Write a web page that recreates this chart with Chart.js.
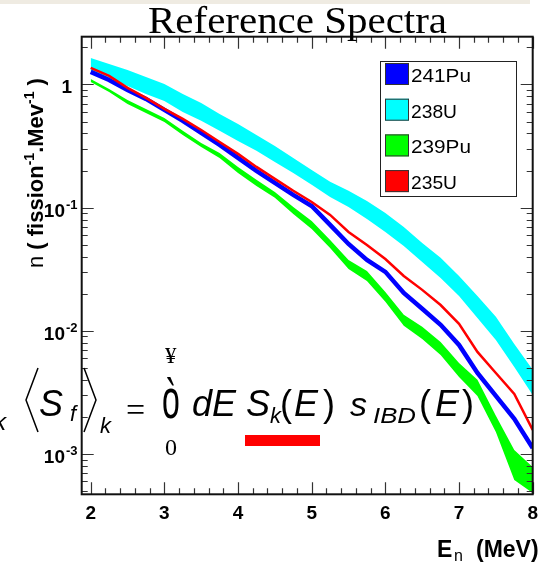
<!DOCTYPE html>
<html>
<head>
<meta charset="utf-8">
<script src="https://cdn.jsdelivr.net/npm/chart.js@4.4.1/dist/chart.umd.min.js"></script>
<style>
  html, body { margin: 0; padding: 0; background: #fff; }
  #wrap { width: 539px; height: 562px; }
</style>
</head>
<body>
<div id="wrap"><canvas id="spectra" width="539" height="562"></canvas></div>
<script>
// neutrino energy grid (MeV)
const energies = [2, 2.25, 2.5, 2.75, 3, 3.25, 3.5, 3.75, 4, 4.25, 4.5, 4.75, 5, 5.25, 5.5, 5.75, 6, 6.25, 6.5, 6.75, 7, 7.25, 7.5, 7.75, 8];

// 238U band
const u238Upper = [1.641, 1.467, 1.311, 1.150, 1.009, 0.837, 0.708, 0.576, 0.478, 0.389, 0.317, 0.253, 0.202, 0.162, 0.137, 0.113, 0.0906, 0.0697, 0.0517, 0.0391, 0.0279, 0.0192, 0.0130, 0.00783, 0.00482];
const u238Lower = [1.287, 1.129, 0.972, 0.837, 0.735, 0.598, 0.506, 0.420, 0.348, 0.289, 0.235, 0.191, 0.153, 0.122, 0.101, 0.0810, 0.0635, 0.0489, 0.0362, 0.0269, 0.0192, 0.0127, 0.00844, 0.00509, 0.00302];

// 239Pu band
const pu239Upper = [1.108, 0.919, 0.748, 0.633, 0.535, 0.420, 0.335, 0.278, 0.214, 0.168, 0.134, 0.101, 0.0780, 0.0547, 0.0376, 0.0306, 0.0207, 0.0135, 0.0108, 0.00813, 0.00549, 0.00400, 0.00204, 0.00108, 0.000786];
const pu239Lower = [1.048, 0.869, 0.695, 0.587, 0.496, 0.389, 0.311, 0.253, 0.191, 0.150, 0.120, 0.0889, 0.0672, 0.0471, 0.0318, 0.0254, 0.0172, 0.0110, 0.00860, 0.00637, 0.00422, 0.00296, 0.00151, 0.000616, 0.000483];

// 241Pu and 235U
const pu241 = [1.263, 1.088, 0.902, 0.763, 0.621, 0.506, 0.404, 0.323, 0.253, 0.199, 0.159, 0.127, 0.103, 0.0724, 0.0507, 0.0376, 0.0301, 0.0203, 0.0151, 0.0112, 0.00768, 0.00455, 0.00296, 0.00193, 0.00112];
const u235 = [1.361, 1.172, 0.937, 0.777, 0.633, 0.525, 0.427, 0.341, 0.273, 0.214, 0.171, 0.137, 0.111, 0.0872, 0.0635, 0.0498, 0.0383, 0.0279, 0.0215, 0.0162, 0.0114, 0.00674, 0.00455, 0.00307, 0.00157];

// axes
const xTickValues = [2, 3, 4, 5, 6, 7, 8];
const xTickLabels = ['2', '3', '4', '5', '6', '7', '8'];
const yDecades = [1, 1e-1, 1e-2, 1e-3];
const yTickBase = ['1', '10', '10', '10'];
const yTickExp = ['', '-1', '-2', '-3'];

// legend
const legendLabels = ['241Pu', '238U', '239Pu', '235U'];
const legendColors = ['#0000ff', '#00ffff', '#00ff00', '#ff0000'];

const SANS = 'Liberation Sans';
const SERIF = 'Liberation Serif';

function pts(ys) {
    return energies.map((e, i) => ({ x: e, y: ys[i] }));
}

function txt(ctx, s, x, y, font, opts) {
    opts = opts || {};
    ctx.save();
    ctx.font = font;
    ctx.fillStyle = opts.color || '#000';
    ctx.textAlign = opts.align || 'left';
    ctx.textBaseline = 'alphabetic';
    if (opts.fitW) {
        const w = ctx.measureText(s).width;
        ctx.translate(x, y);
        ctx.scale(opts.fitW / w, 1);
        ctx.fillText(s, 0, 0);
    } else {
        ctx.fillText(s, x, y);
    }
    ctx.restore();
}

const rootStyle = {
    id: 'rootStyle',
    beforeDraw(chart) {
        const ctx = chart.ctx;
        ctx.save();
        ctx.fillStyle = '#ffffff';
        ctx.fillRect(0, 0, chart.width, chart.height);
        ctx.fillStyle = '#efebe2';
        ctx.fillRect(0, 0, 530, 4);
        ctx.restore();
    },
    afterDatasetsDraw(chart) {
        const { ctx, chartArea: a, scales: { x, y } } = chart;
        ctx.save();

        // ticks (inside, on all four sides)
        ctx.strokeStyle = '#333';
        ctx.lineWidth = 1.2;
        ctx.beginPath();
        for (let i = 0; i <= 30; i++) {
            const px = Math.round(x.getPixelForValue(2 + i * 0.2)) + 0.5;
            const len = i % 5 === 0 ? 12 : 6;
            ctx.moveTo(px, a.bottom); ctx.lineTo(px, a.bottom - len);
            ctx.moveTo(px, a.top); ctx.lineTo(px, a.top + len);
        }
        for (let d = -4; d <= 0; d++) {
            for (let m = 1; m <= 9; m++) {
                const v = m * Math.pow(10, d);
                if (v < y.min || v > y.max) continue;
                const py = Math.round(y.getPixelForValue(v)) + 0.5;
                const len = m === 1 ? 12 : 6;
                ctx.moveTo(a.left, py); ctx.lineTo(a.left + len, py);
                ctx.moveTo(a.right, py); ctx.lineTo(a.right - len, py);
            }
        }
        ctx.stroke();

        // frame
        ctx.strokeStyle = '#111';
        ctx.lineWidth = 2;
        ctx.strokeRect(a.left, a.top, a.right - a.left, a.bottom - a.top);

        // x tick labels
        xTickValues.forEach((v, i) => {
            txt(ctx, xTickLabels[i], x.getPixelForValue(v), 519, `bold 19px ${SANS}`, { align: 'center' });
        });

        // y tick labels
        yDecades.forEach((v, i) => {
            const py = y.getPixelForValue(v);
            if (yTickExp[i] === '') {
                txt(ctx, yTickBase[i], 72, py + 9, `bold 19px ${SANS}`, { align: 'right' });
            } else {
                txt(ctx, yTickBase[i], 65, py + 9, `bold 19px ${SANS}`, { align: 'right' });
                txt(ctx, yTickExp[i], 66, py + 1, `bold 13px ${SANS}`);
            }
        });

        // legend
        ctx.fillStyle = '#fff';
        ctx.fillRect(380.5, 61.5, 136, 135);
        ctx.strokeStyle = '#222';
        ctx.lineWidth = 1;
        ctx.strokeRect(380.5, 61.5, 136, 135);
        legendLabels.forEach((lab, i) => {
            const top = 63 + i * 35.7;
            ctx.fillStyle = legendColors[i];
            ctx.fillRect(385, top, 24, 22);
            ctx.strokeStyle = '#333';
            ctx.strokeRect(385.5, top + 0.5, 23, 21);
            txt(ctx, lab, 411, top + 19, `19px ${SANS}`, { fitW: lab.length === 5 ? 60 : 46 });
        });

        // axis titles
        txt(ctx, 'E', 437, 557, `bold 23px ${SANS}`);
        txt(ctx, 'n', 454, 561, `16px ${SANS}`);
        txt(ctx, '(MeV)', 476, 557, `bold 23px ${SANS}`);

        ctx.save();
        ctx.translate(43, 268);
        ctx.rotate(-Math.PI / 2);
        let cx = 0;
        const piece = (s, font, dy) => {
            ctx.font = font;
            ctx.fillStyle = '#000';
            ctx.fillText(s, cx, dy || 0);
            cx += ctx.measureText(s).width;
        };
        piece('n', `22px ${SANS}`);
        piece(' ( fission', `bold 22px ${SANS}`);
        piece('-1', `bold 14px ${SANS}`, -9);
        piece('.Mev', `bold 22px ${SANS}`);
        piece('-1', `bold 14px ${SANS}`, -9);
        piece(' )', `bold 22px ${SANS}`);
        ctx.restore();

        // title
        txt(ctx, 'Reference Spectra', 148, 33, `38px ${SERIF}`, { fitW: 299 });

        // formula overlay
        const it36 = `italic 36px ${SANS}`;
        const it22 = `italic 22px ${SANS}`;
        txt(ctx, 'k', -6, 430, `italic 24px ${SANS}`);
        ctx.strokeStyle = '#000';
        ctx.lineWidth = 1.5;
        ctx.beginPath(); ctx.moveTo(38, 368); ctx.lineTo(26, 400); ctx.lineTo(38, 432); ctx.stroke();
        ctx.beginPath(); ctx.moveTo(84, 368); ctx.lineTo(96, 400); ctx.lineTo(84, 432); ctx.stroke();
        txt(ctx, 'S', 39, 416, it36);
        txt(ctx, 'f', 70, 421, it22);
        txt(ctx, 'k', 100, 433, it22);
        txt(ctx, '=', 126, 421, `34px ${SERIF}`);
        txt(ctx, '¥', 165, 363, `23px ${SERIF}`);
        ctx.save();
        ctx.translate(162, 418);
        ctx.scale(1, 1.75);
        txt(ctx, 'ò', 0, 0, `32px ${SANS}`);
        ctx.restore();
        txt(ctx, '0', 165, 455, `24px ${SERIF}`);
        txt(ctx, 'dE', 192, 416, it36);
        txt(ctx, 'S', 246, 416, it36);
        txt(ctx, 'k', 270, 423, it22);
        txt(ctx, '(', 280, 416, `36px ${SANS}`);
        txt(ctx, 'E', 294, 416, it36);
        txt(ctx, ')', 323, 416, `36px ${SANS}`);
        txt(ctx, 's', 350, 416, `italic 34px ${SANS}`);
        txt(ctx, 'IBD', 373, 423, it22, { fitW: 43 });
        txt(ctx, '(', 419, 416, `36px ${SANS}`);
        txt(ctx, 'E', 435, 416, it36);
        txt(ctx, ')', 462, 416, `36px ${SANS}`);
        ctx.fillStyle = '#ff0000';
        ctx.fillRect(245, 435, 75, 11);

        ctx.restore();
    }
};

const ctx = document.getElementById('spectra').getContext('2d');
const bandEdge = { borderWidth: 0, borderColor: 'transparent', pointRadius: 0, tension: 0 };

new Chart(ctx, {
    type: 'line',
    data: {
        datasets: [
            { ...bandEdge, label: '238U upper', data: pts(u238Upper), fill: false, order: 5 },
            { ...bandEdge, label: '238U', data: pts(u238Lower), fill: '-1', backgroundColor: '#00ffff', order: 4 },
            { ...bandEdge, label: '239Pu upper', data: pts(pu239Upper), fill: false, order: 3 },
            { ...bandEdge, label: '239Pu', data: pts(pu239Lower), fill: '-1', backgroundColor: '#00ff00', order: 2 },
            { label: '241Pu', data: pts(pu241), borderColor: '#0000ff', borderWidth: 4.5, pointRadius: 0, tension: 0, fill: false, order: 1 },
            { label: '235U', data: pts(u235), borderColor: '#ff0000', borderWidth: 2.5, pointRadius: 0, tension: 0, fill: false, order: 0 }
        ]
    },
    options: {
        responsive: false,
        maintainAspectRatio: false,
        devicePixelRatio: 1,
        animation: false,
        events: [],
        layout: {
            padding: { left: 81.7, right: 6.3, top: 36.7, bottom: 67.7 }
        },
        plugins: {
            legend: { display: false },
            tooltip: { enabled: false },
            title: { display: false }
        },
        scales: {
            x: { type: 'linear', min: 1.878, max: 8, display: false },
            y: { type: 'logarithmic', min: 4.71e-4, max: 2.44, display: false }
        }
    },
    plugins: [rootStyle]
});
</script>
</body>
</html>
